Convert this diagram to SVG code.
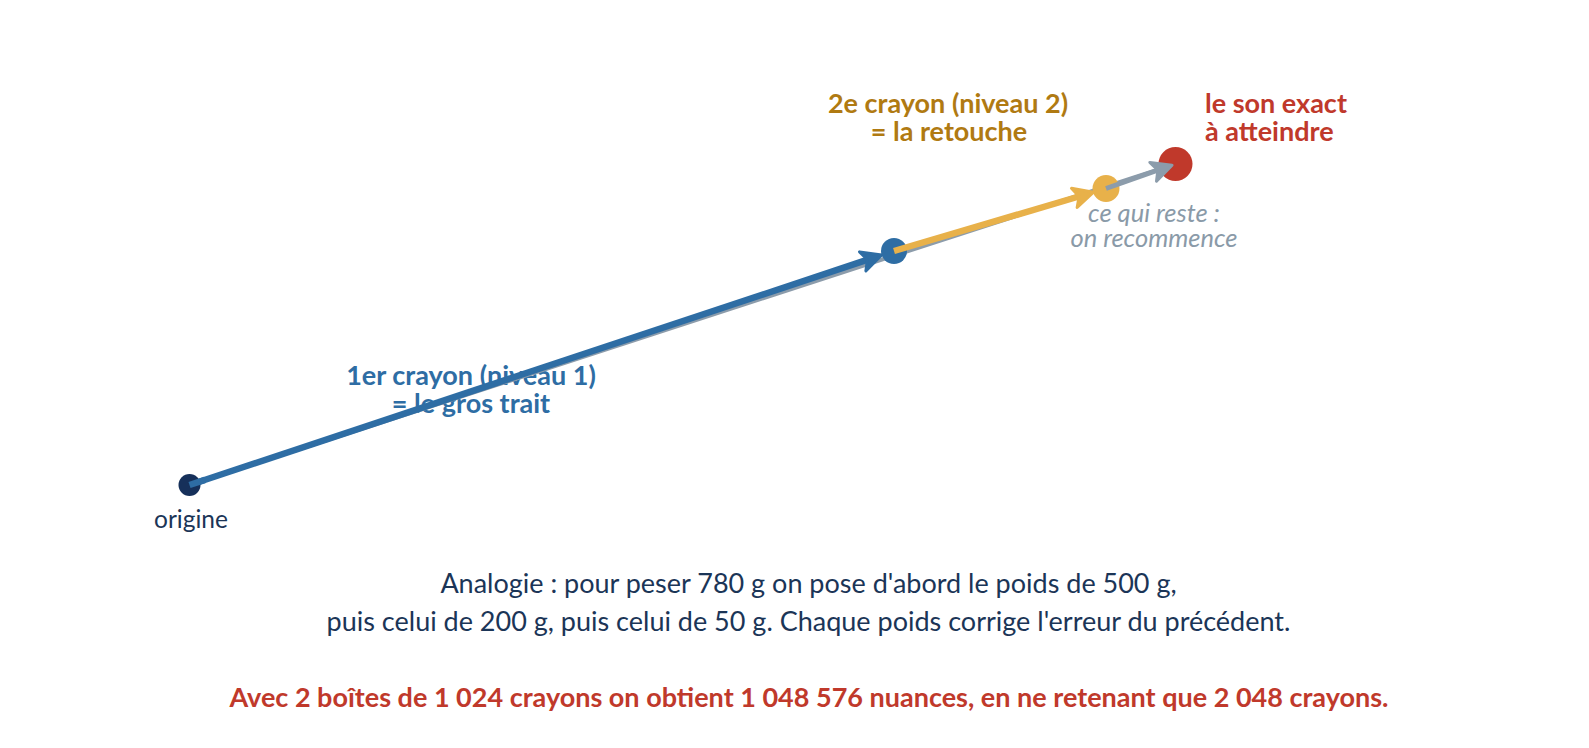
<svg xmlns="http://www.w3.org/2000/svg" width="1589" height="748" viewBox="0 0 1589 748">
<style>
text{font-family:Lato,"Noto Sans","Liberation Sans",sans-serif}
.lbl{font-size:27px;font-weight:700;text-anchor:middle}
.blue{fill:#2e6da4}
.gold{fill:#b07a12}
.red{fill:#c0392b}
.grey{fill:#8a9aa8}
.navy{fill:#1b3557}
.note{font-size:27px;text-anchor:middle;fill:#1b3557}
</style>
<defs>
<marker id="ahBlue" viewBox="0 0 24 24" markerUnits="userSpaceOnUse" markerWidth="24" markerHeight="24" refX="12" refY="12" orient="auto"><path d="M2,2 L22,12 L2,22 L7,12 z" fill="#2e6da4" stroke="#2e6da4" stroke-width="3" stroke-linejoin="round"/></marker>
<marker id="ahGold" viewBox="0 0 24 24" markerUnits="userSpaceOnUse" markerWidth="24" markerHeight="24" refX="12" refY="12" orient="auto"><path d="M2,2 L22,12 L2,22 L7,12 z" fill="#e8b14a" stroke="#e8b14a" stroke-width="3" stroke-linejoin="round"/></marker>
<marker id="ahGrey" viewBox="0 0 24 24" markerUnits="userSpaceOnUse" markerWidth="24" markerHeight="24" refX="12" refY="12" orient="auto"><path d="M2,2 L22,12 L2,22 L7,12 z" fill="#8c9cab" stroke="#8c9cab" stroke-width="3" stroke-linejoin="round"/></marker>
</defs>
<rect width="1589" height="748" fill="#ffffff"/>
<g id="labels">
<text class="lbl blue" x="471" y="384.5">1er crayon (niveau 1)</text>
<text class="lbl blue" x="471" y="412.5">= le gros trait</text>
</g>
<g id="connectors">
<line x1="189.5" y1="485" x2="1175.5" y2="164" stroke="#8c9cab" stroke-width="4"/>
<line x1="189.5" y1="485" x2="872.2" y2="258.2" stroke="#2e6da4" stroke-width="6.5" marker-end="url(#ahBlue)"/>
</g>
<g id="node-origin">
<circle cx="189.5" cy="485" r="11" fill="#16305a"/>
<line x1="189.5" y1="485" x2="205" y2="479.9" stroke="#2e6da4" stroke-width="6.5"/>
<text x="191" y="528" font-size="24.5" text-anchor="middle" class="navy">origine</text>
</g>
<g id="node-level1">
<circle cx="894" cy="251" r="13" fill="#2e6da4"/>
</g>
<g id="connector-level2">
<line x1="894" y1="251" x2="1083.9" y2="195" stroke="#e8b14a" stroke-width="6.5" marker-end="url(#ahGold)"/>
</g>
<g id="node-level2">
<circle cx="1106" cy="188.5" r="13.5" fill="#e8b14a"/>
<text class="lbl gold" x="948" y="112.5">2e crayon (niveau 2)</text>
<text class="lbl gold" x="949" y="140.5">= la retouche</text>
</g>
<g id="node-target">
<circle cx="1175.5" cy="164" r="17" fill="#c0392b"/>
<text x="1205" y="112.5" font-size="27" font-weight="700" class="red">le son exact</text>
<text x="1205" y="140.5" font-size="27" font-weight="700" class="red">à atteindre</text>
</g>
<g id="connector-rest">
<line x1="1106" y1="188.5" x2="1162.6" y2="168.5" stroke="#8c9cab" stroke-width="5" marker-end="url(#ahGrey)"/>
<text x="1154" y="221.5" font-size="25.5" font-style="italic" text-anchor="middle" class="grey">ce qui reste :</text>
<text x="1154" y="247" font-size="25.5" font-style="italic" text-anchor="middle" class="grey">on recommence</text>
</g>
<g id="caption">
<text class="note" x="808.5" y="593">Analogie : pour peser 780 g on pose d'abord le poids de 500 g,</text>
<text class="note" x="808.5" y="631">puis celui de 200 g, puis celui de 50 g. Chaque poids corrige l'erreur du précédent.</text>
<text x="809" y="707" font-size="27" font-weight="700" text-anchor="middle" class="red">Avec 2 boîtes de 1 024 crayons on obtient 1 048 576 nuances, en ne retenant que 2 048 crayons.</text>
</g>
</svg>
